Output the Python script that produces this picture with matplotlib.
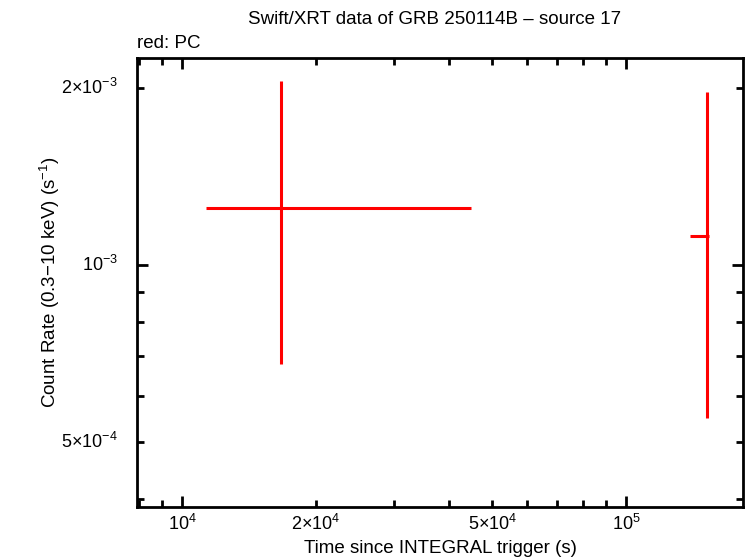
import matplotlib
matplotlib.use('Agg')
import matplotlib.pyplot as plt
import matplotlib.ticker as mticker
import numpy as np

plt.rcParams['font.family'] = ['Liberation Sans', 'DejaVu Sans']
plt.rcParams['mathtext.fontset'] = 'custom'
plt.rcParams['mathtext.rm'] = 'Liberation Sans'
plt.rcParams['mathtext.it'] = 'Liberation Sans'
plt.rcParams['mathtext.default'] = 'regular'

# PC mode light curve points
time = [1.671e4, 1.522e5]
time_lo = [1.133e4, 1.394e5]
time_hi = [4.476e4, 1.538e5]
rate = [1.250e-3, 1.120e-3]
rate_lo = [6.785e-4, 5.493e-4]
rate_hi = [2.055e-3, 1.968e-3]

xticks = [1e4, 2e4, 5e4, 1e5]
xticklabels = [r'$10^{4}$', r'$2{\times}10^{4}$', r'$5{\times}10^{4}$', r'$10^{5}$']
yticks = [5e-4, 1e-3, 2e-3]
yticklabels = [r'$5{\times}10^{-4}$', r'$10^{-3}$', r'$2{\times}10^{-3}$']

fig = plt.figure(figsize=(7.46, 5.58), dpi=100)
ax = fig.add_axes([0.1843, 0.0914, 0.8123, 0.8046])

t = np.array(time)
r = np.array(rate)
xerr = [t - np.array(time_lo), np.array(time_hi) - t]
yerr = [r - np.array(rate_lo), np.array(rate_hi) - r]
ax.errorbar(t, r, xerr=xerr, yerr=yerr, fmt='none', ecolor='#ff0000',
            elinewidth=2.2, capsize=0)

ax.set_xscale('log')
ax.set_yscale('log')
ax.set_xlim(7.94e3, 1.839e5)
ax.set_ylim(3.877e-4, 2.25e-3)

# decades get long ticks, the rest short; labels placed separately
ax.xaxis.set_major_locator(mticker.LogLocator(base=10, numticks=20))
ax.xaxis.set_minor_locator(mticker.LogLocator(base=10, subs=np.arange(2, 10), numticks=20))
ax.yaxis.set_major_locator(mticker.LogLocator(base=10, numticks=20))
ax.yaxis.set_minor_locator(mticker.LogLocator(base=10, subs=np.arange(2, 10), numticks=20))
ax.xaxis.set_major_formatter(mticker.NullFormatter())
ax.xaxis.set_minor_formatter(mticker.NullFormatter())
ax.yaxis.set_major_formatter(mticker.NullFormatter())
ax.yaxis.set_minor_formatter(mticker.NullFormatter())

for v, lab in zip(xticks, xticklabels):
    ax.annotate(lab, (v, 0), xycoords=('data', 'axes fraction'), xytext=(0, -5),
                textcoords='offset points', ha='center', va='top', fontsize=13)
for v, lab in zip(yticks, yticklabels):
    ax.annotate(lab, (0, v), xycoords=('axes fraction', 'data'), xytext=(-14, 0),
                textcoords='offset points', ha='right', va='center', fontsize=13)

for s in ax.spines.values():
    s.set_linewidth(2)
ax.tick_params(which='both', direction='in', top=True, right=True, width=2)
ax.tick_params(which='major', length=8)
ax.tick_params(which='minor', length=5)

ax.set_xlabel('Time since INTEGRAL trigger (s)', fontsize=13.5, labelpad=20)
ax.set_ylabel(r'Count Rate (0.3$-$10 keV) (s$^{-1}$)', fontsize=13.5, labelpad=51)
fig.text(0.583, 0.965, 'Swift/XRT data of GRB 250114B \u2013 source 17', ha='center',
         va='center', fontsize=13.5)
fig.text(0.1843, 0.922, 'red: PC', ha='left', va='center', fontsize=13.5)

fig.savefig('out.png', dpi=100)
